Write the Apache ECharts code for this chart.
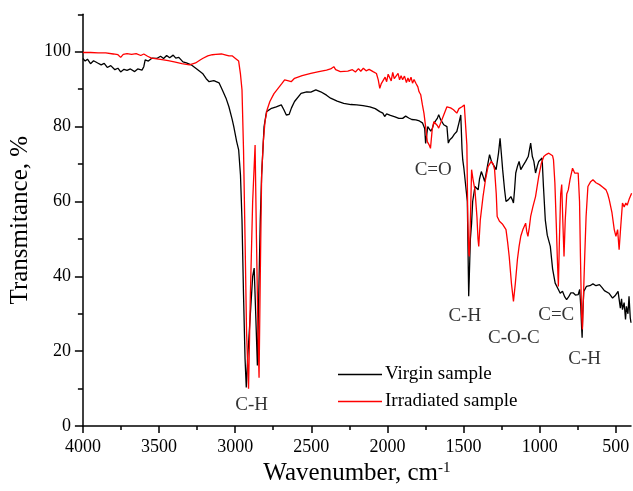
<!DOCTYPE html>
<html>
<head>
    <meta charset="utf-8">
    <title>FTIR</title>
    <script src="https://cdn.jsdelivr.net/npm/echarts@6/dist/echarts.min.js"></script>
    <style>
        html, body { margin: 0; padding: 0; background: #fff; }
    </style>
</head>
<body>
<div id="main" style="width: 633px;height:491px;"></div>
<script type="text/javascript">
    // virgin sample spectrum (wavenumber, transmittance)
    var virginWn = [4000, 3985, 3970, 3950, 3930, 3903, 3880, 3860, 3840, 3817, 3790, 3770, 3752, 3730, 3710, 3688, 3660, 3640, 3612, 3600,
        3591, 3570, 3545, 3515, 3490, 3470, 3450, 3430, 3407, 3390, 3370, 3343, 3320, 3289, 3250, 3214, 3190, 3171, 3140, 3106,
        3084, 3060, 3041, 3020, 3009, 2990, 2977, 2965, 2955, 2945, 2935, 2927, 2918, 2900, 2885, 2875, 2865, 2854, 2845, 2835,
        2826, 2810, 2794, 2761, 2730, 2697, 2680, 2664, 2645, 2630, 2610, 2567, 2530, 2503, 2470, 2438, 2400, 2373, 2330, 2287,
        2240, 2201, 2160, 2115, 2080, 2050, 2030, 2018, 2005, 1980, 1950, 1925, 1900, 1880, 1860, 1840, 1813, 1790, 1770, 1755,
        1749, 1741, 1735, 1727, 1715, 1706, 1695, 1684, 1672, 1663, 1652, 1641, 1630, 1620, 1609, 1600, 1590, 1576, 1560, 1544,
        1530, 1518, 1510, 1505, 1498, 1494, 1485, 1475, 1468, 1466, 1462, 1455, 1447, 1440, 1432, 1425, 1415, 1404, 1395, 1383,
        1370, 1361, 1345, 1329, 1315, 1300, 1286, 1270, 1260, 1250, 1243, 1230, 1221, 1205, 1189, 1180, 1172, 1165, 1157, 1145,
        1135, 1124, 1110, 1092, 1075, 1059, 1048, 1038, 1027, 1015, 1006, 995, 984, 975, 963, 950, 930, 915, 898, 877,
        865, 850, 835, 823, 810, 795, 780, 765, 747, 737, 730, 724, 721, 717, 710, 693, 670, 650, 630, 607,
        590, 575, 564, 545, 521, 505, 495, 485, 478, 470, 462, 456, 445, 436, 430, 420, 413, 405, 400];
    var virginT = [98.2, 97.5, 98.0, 96.8, 97.6, 97.0, 96.5, 96.9, 95.8, 96.3, 95.2, 95.6, 94.6, 95.3, 95.0, 95.4, 94.7, 95.4, 95.1, 96.0,
        97.8, 97.5, 98.3, 98.2, 98.8, 98.2, 99.0, 98.4, 99.1, 98.3, 98.5, 97.3, 97.0, 96.5, 95.3, 94.2, 92.8, 92.0, 92.3, 91.7,
        89.8, 87.6, 85.3, 82.0, 80.0, 76.0, 73.8, 67.0, 55.0, 35.0, 18.0, 10.3, 18.0, 30.0, 40.0, 42.2, 30.0, 16.2, 35.0, 55.0,
        67.1, 80.0, 84.0, 84.9, 85.3, 85.8, 84.5, 83.1, 83.3, 85.0, 86.7, 88.9, 89.3, 89.2, 89.8, 89.3, 88.4, 87.6, 86.8, 86.2,
        85.9, 85.8, 85.6, 85.3, 84.8, 84.0, 83.6, 82.7, 83.4, 83.0, 82.6, 82.2, 82.2, 82.8, 82.3, 81.9, 81.8, 81.5, 81.0, 79.5,
        75.5, 76.0, 80.0, 79.5, 78.8, 79.4, 80.9, 81.5, 82.2, 83.2, 82.0, 81.5, 80.5, 80.3, 80.0, 75.6, 76.5, 77.0, 78.0, 78.7,
        81.0, 83.1, 74.0, 71.1, 69.0, 68.5, 69.0, 60.0, 40.0, 34.7, 40.0, 50.0, 54.2, 60.0, 60.5, 64.0, 63.5, 63.1, 66.0, 68.0,
        66.5, 65.3, 69.0, 72.5, 70.5, 69.5, 68.5, 73.0, 76.9, 72.0, 68.5, 63.0, 60.0, 60.5, 61.3, 60.5, 59.6, 63.0, 67.6, 69.5,
        70.7, 68.5, 69.5, 70.7, 72.0, 75.6, 72.0, 70.7, 67.6, 69.5, 70.7, 71.2, 71.6, 64.0, 55.1, 51.0, 48.0, 42.0, 38.2, 36.5,
        35.5, 36.0, 34.5, 33.8, 34.5, 35.6, 35.6, 35.0, 35.1, 36.5, 32.0, 26.0, 23.6, 30.0, 36.0, 37.3, 37.5, 38.0, 37.5, 37.8,
        37.0, 36.2, 36.5, 35.5, 34.2, 34.8, 35.2, 36.0, 35.6, 31.5, 34.0, 31.1, 33.0, 28.5, 32.0, 30.0, 34.7, 29.0, 27.6];

    // irradiated sample spectrum
    var irradWn = [4000, 3950, 3900, 3850, 3800, 3770, 3752, 3735, 3710, 3680, 3650, 3620, 3600, 3575, 3550, 3515, 3480, 3440, 3400, 3350,
        3300, 3260, 3230, 3214, 3180, 3150, 3128, 3090, 3060, 3040, 3020, 3008, 2998, 2977, 2965, 2955, 2945, 2935, 2925, 2912,
        2900, 2885, 2869, 2860, 2850, 2843, 2835, 2826, 2815, 2804, 2790, 2772, 2745, 2718, 2695, 2675, 2655, 2632, 2610, 2560,
        2503, 2450, 2400, 2373, 2360, 2352, 2340, 2309, 2260, 2230, 2210, 2190, 2175, 2158, 2140, 2120, 2094, 2072, 2060, 2050,
        2040, 2029, 2015, 2005, 1995, 1986, 1975, 1965, 1955, 1943, 1930, 1920, 1910, 1900, 1888, 1875, 1865, 1856, 1845, 1835,
        1825, 1813, 1800, 1792, 1781, 1770, 1760, 1749, 1738, 1727, 1717, 1706, 1695, 1684, 1672, 1663, 1650, 1641, 1630, 1609,
        1585, 1566, 1555, 1544, 1530, 1510, 1495, 1482, 1478, 1472, 1465, 1462, 1458, 1452, 1447, 1438, 1425, 1412, 1405, 1400,
        1390, 1372, 1355, 1339, 1318, 1305, 1296, 1285, 1279, 1264, 1245, 1221, 1210, 1200, 1185, 1172, 1160, 1146, 1135, 1124,
        1110, 1092, 1085, 1077, 1068, 1059, 1045, 1027, 1006, 990, 973, 955, 940, 930, 915, 909, 900, 891, 884, 877,
        870, 862, 855, 848, 840, 832, 822, 812, 800, 784, 770, 747, 738, 732, 725, 719, 712, 704, 695, 683,
        665, 650, 630, 607, 585, 564, 553, 543, 525, 510, 499, 488, 478, 468, 456, 445, 434, 425, 413, 405, 396];
    var irradT = [99.8, 99.8, 99.7, 99.7, 99.4, 99.2, 98.5, 99.3, 99.5, 99.3, 99.5, 99.0, 99.4, 98.8, 98.3, 98.1, 97.9, 97.6, 97.3, 96.8,
        96.5, 97.0, 97.8, 98.2, 98.9, 99.2, 99.3, 99.4, 99.1, 98.9, 98.9, 99.3, 98.2, 97.5, 94.0, 89.8, 73.8, 50.0, 25.0, 10.0,
        35.0, 60.0, 75.1, 50.0, 25.0, 12.9, 40.0, 67.1, 76.0, 81.3, 84.5, 86.7, 88.8, 90.2, 91.4, 92.5, 92.3, 92.0, 92.9, 93.6,
        94.2, 94.7, 95.1, 95.4, 95.9, 96.0, 95.2, 94.7, 94.8, 95.2, 94.6, 95.5, 94.8, 95.6, 94.9, 95.3, 94.7, 94.2, 92.5, 90.2,
        91.5, 91.0, 93.2, 92.0, 94.0, 93.8, 92.2, 94.5, 92.8, 93.3, 94.2, 92.5, 93.6, 92.5, 93.5, 91.8, 93.0, 92.0, 93.2, 91.6,
        92.6, 91.6, 90.6, 89.3, 88.5, 85.8, 83.6, 80.0, 76.0, 75.2, 74.2, 79.1, 81.3, 81.3, 80.3, 79.6, 81.0, 81.5, 83.1, 85.3,
        85.0, 84.5, 84.0, 83.6, 84.8, 85.3, 85.8, 86.0, 75.0, 55.0, 46.0, 45.3, 50.0, 60.0, 68.5, 66.0, 63.1, 56.0, 50.0, 48.0,
        55.0, 61.3, 66.0, 69.3, 70.7, 70.0, 68.5, 62.0, 56.0, 54.7, 54.0, 52.5, 49.0, 45.3, 38.0, 33.3, 38.0, 44.5, 48.0, 50.7,
        52.5, 54.2, 52.0, 50.7, 53.0, 56.0, 58.5, 61.3, 66.7, 70.0, 72.0, 72.6, 72.9, 72.9, 72.2, 71.1, 65.0, 54.2, 45.0, 37.3,
        50.0, 62.0, 64.5, 55.0, 45.3, 55.0, 62.0, 63.1, 66.0, 68.9, 67.6, 67.6, 60.0, 45.3, 30.0, 25.8, 35.0, 45.3, 56.0, 64.0,
        65.3, 65.8, 65.0, 64.5, 63.8, 63.1, 62.0, 60.5, 57.0, 52.5, 50.7, 52.5, 47.1, 53.0, 59.6, 58.5, 59.6, 59.0, 60.5, 60.8, 62.2];

    // band labels
    var bandNames = ['C-H', 'C=O', 'C-H', 'C-O-C', 'C=C', 'C-H'];
    var bandWn = [2892, 1699, 1492, 1169, 891, 704];
    var bandT = [5.5, 68.5, 29.3, 23.4, 29.8, 18];

    // ticks
    var xMajor = [4000, 3500, 3000, 2500, 2000, 1500, 1000, 500];
    var xMinor = [3750, 3250, 2750, 2250, 1750, 1250, 750];
    var yMajor = [0, 20, 40, 60, 80, 100];
    var yMinor = [10, 30, 50, 70, 90, 110];

    var serif = "Liberation Serif";

    function pairs(xs, ys) {
        return xs.map(function (x, i) { return [x, ys[i]]; });
    }

    var chartDom = document.getElementById('main');
    var myChart = echarts.init(chartDom);

    var axisLineStyle = { color: '#000', width: 1.5 };

    var option = {
        animation: false,
        backgroundColor: '#fff',
        textStyle: { fontFamily: serif, color: '#000' },
        grid: { left: 75, right: 1, top: 14.3, bottom: 64.3, containLabel: false },
        legend: {
            orient: 'vertical',
            left: 333,
            top: 359,
            icon: 'rect',
            itemWidth: 44,
            itemHeight: 1.5,
            itemGap: 6,
            data: ['Virgin sample', 'Irradiated sample'],
            textStyle: { fontFamily: serif, fontSize: 19, color: '#000', lineHeight: 21, padding: [0, 0, 0, -2] }
        },
        xAxis: [
            {
                type: 'value', min: 400, max: 4000, inverse: true, position: 'bottom',
                name: 'Wavenumber, cm{sup|-1}',
                nameLocation: 'middle', nameGap: 34,
                nameTextStyle: {
                    fontFamily: serif, fontSize: 25, color: '#000',
                    rich: { sup: { fontFamily: serif, fontSize: 15, color: '#000', verticalAlign: 'top', padding: [0, 0, 10, 0] } }
                },
                axisLine: { show: true, lineStyle: axisLineStyle },
                axisTick: { show: true, customValues: xMajor, length: 7, lineStyle: axisLineStyle },
                axisLabel: {
                    customValues: xMajor, margin: 12, fontFamily: serif, fontSize: 18, color: '#000',
                    formatter: function (v) { return String(v); }
                },
                splitLine: { show: false }
            },
            {
                type: 'value', min: 400, max: 4000, inverse: true, position: 'bottom',
                axisLine: { show: false },
                axisTick: { show: true, customValues: xMinor, length: 4, lineStyle: axisLineStyle },
                axisLabel: { show: false },
                splitLine: { show: false }
            }
        ],
        yAxis: [
            {
                type: 'value', min: 0, max: 110, position: 'left',
                name: 'Transmitance, %',
                nameLocation: 'middle', nameGap: 40, nameRotate: 90,
                nameTextStyle: { fontFamily: serif, fontSize: 25, color: '#000' },
                axisLine: { show: true, lineStyle: axisLineStyle },
                axisTick: { show: true, customValues: yMajor, length: 8, lineStyle: axisLineStyle },
                axisLabel: {
                    customValues: yMajor, margin: 12, fontFamily: serif, fontSize: 18, color: '#000',
                    formatter: function (v) { return String(v); }
                },
                splitLine: { show: false }
            },
            {
                type: 'value', min: 0, max: 110, position: 'left',
                axisLine: { show: false },
                axisTick: { show: true, customValues: yMinor, length: 5, lineStyle: axisLineStyle },
                axisLabel: { show: false },
                splitLine: { show: false }
            }
        ],
        series: [
            {
                name: 'Virgin sample', type: 'line', symbol: 'none',
                data: pairs(virginWn, virginT),
                lineStyle: { color: '#000', width: 1.3 },
                itemStyle: { color: '#000' }
            },
            {
                name: 'Irradiated sample', type: 'line', symbol: 'none',
                data: pairs(irradWn, irradT),
                lineStyle: { color: '#ff0000', width: 1.3 },
                itemStyle: { color: '#ff0000' }
            },
            {
                name: 'bands', type: 'scatter', symbolSize: 0, silent: true, z: 5,
                data: bandNames.map(function (n, i) { return { name: n, value: [bandWn[i], bandT[i]] }; }),
                label: {
                    show: true, position: 'inside', formatter: '{b}',
                    fontFamily: serif, fontSize: 19, color: '#000'
                }
            }
        ]
    };

    if (option && typeof option === 'object') {
        myChart.setOption(option);
    }
</script>
</body>
</html>
